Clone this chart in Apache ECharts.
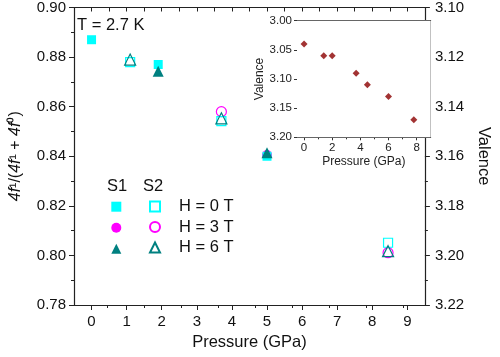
<!DOCTYPE html>
<html><head><meta charset="utf-8">
<script src="https://cdn.jsdelivr.net/npm/echarts@6/dist/echarts.min.js"></script>
<style>html,body{margin:0;padding:0;background:#fff}#c{width:500px;height:357px}</style>
</head><body><div id="c"></div>
<script>
// ---- data ----
const s1_0T_p = [0, 1.9, 5.0];      const s1_0T_v = [0.887, 0.877, 0.840];
const s1_3T_p = [5.0];              const s1_3T_v = [0.8405];
const s1_6T_p = [1.9, 5.0];         const s1_6T_v = [0.8743, 0.8414];
const s2_0T_p = [1.1, 3.7, 8.45];   const s2_0T_v = [0.878, 0.8542, 0.8051];
const s2_3T_p = [3.7, 8.45];        const s2_3T_v = [0.858, 0.8011];
const s2_6T_p = [1.1, 3.7, 8.45];   const s2_6T_v = [0.879, 0.8553, 0.8017];
const inset_p = [0, 1.4, 2.0, 3.7, 4.5, 6.0, 7.8];
const inset_v = [3.04, 3.06, 3.06, 3.09, 3.11, 3.13, 3.17];
const xMajorTicks = [0,1,2,3,4,5,6,7,8,9];
const xMinorTicks = [0.5,1.5,2.5,3.5,4.5,5.5,6.5,7.5,8.5];
const xTopTicks = [0,0.5,1,1.5,2,2.5,3,3.5,4,4.5,5,5.5,6,6.5,7,7.5,8,8.5,9];
const insetXMajor = [0,2,4,6,8];
const insetXMinor = [1,3,5,7];

const zip = (a,b)=>a.map((x,i)=>[x,b[i]]);
const CY='#00FFFF', MG='#FF00FF', TL='#008080';
const FONT='Liberation Sans, Arial, sans-serif';
const AX='#222';

function filled(name, sym, size, color, p, v){
  return {name, type:'scatter', xAxisIndex:0, yAxisIndex:0, symbol:sym, symbolSize:size,
    itemStyle:{color, opacity:1}, data:zip(p,v), z:3};
}
function open(name, sym, size, color, p, v){
  return {name, type:'scatter', xAxisIndex:0, yAxisIndex:0, symbol:sym, symbolSize:size,
    itemStyle:{color:'rgba(255,255,255,0)', borderColor:color, borderWidth:1.2, opacity:1}, data:zip(p,v), z:4};
}
const lblStyle = {fontFamily:FONT, fontSize:15, color:'#111'};
const insetLbl = {fontFamily:FONT, fontSize:11.5, color:'#222'};
const mainRect = {left:70, top:6, width:370.5, height:299};
const insetRect = {left:297, top:20.7, width:133.7, height:116.6};

const chart = echarts.init(document.getElementById('c'), null, {renderer:'canvas'});
chart.setOption({
  animation:false,
  backgroundColor:'#fff',
  textStyle:{fontFamily:FONT},
  grid:[
    {...mainRect},
    {...insetRect, show:true, backgroundColor:'#fff', borderWidth:0, z:5},
    {...mainRect},
    {...insetRect, z:6}
  ],
  xAxis:[
    {gridIndex:0, type:'value', position:'bottom', min:-0.5, max:9.5,
     axisLine:{show:true, onZero:false, lineStyle:{color:AX, width:1.2}},
     axisTick:{show:true, length:5, customValues:xMajorTicks, lineStyle:{color:AX}},
     axisLabel:{customValues:xMajorTicks, margin:9, ...lblStyle},
     splitLine:{show:false},
     name:'Pressure (GPa)', nameLocation:'middle', nameGap:27,
     nameTextStyle:{fontFamily:FONT, fontSize:16.5, color:'#111'}},
    {gridIndex:0, type:'value', position:'top', min:-0.5, max:9.5,
     axisLine:{show:true, onZero:false, lineStyle:{color:AX, width:1.2}},
     axisTick:{show:true, inside:true, length:4, customValues:xTopTicks, lineStyle:{color:AX}},
     axisLabel:{show:false}, splitLine:{show:false}},
    {gridIndex:1, type:'value', position:'bottom', min:-0.5, max:9,
     axisLine:{show:true, onZero:false, lineStyle:{color:'#333'}},
     axisTick:{show:true, length:3, customValues:insetXMajor, lineStyle:{color:'#333'}},
     axisLabel:{customValues:insetXMajor, margin:5, ...insetLbl},
     splitLine:{show:false},
     name:'Pressure (GPa)', nameLocation:'middle', nameGap:18,
     nameTextStyle:{fontFamily:FONT, fontSize:12, color:'#222'}},
    {gridIndex:1, type:'value', position:'top', min:-0.5, max:9,
     axisLine:{show:true, onZero:false, lineStyle:{color:'#333'}},
     axisTick:{show:true, inside:true, length:3, customValues:insetXMajor, lineStyle:{color:'#333'}},
     axisLabel:{show:false}, splitLine:{show:false}},
    {gridIndex:2, type:'value', position:'bottom', min:-0.5, max:9.5,
     axisLine:{show:false}, axisTick:{show:true, length:3, customValues:xMinorTicks, lineStyle:{color:AX}},
     axisLabel:{show:false}, splitLine:{show:false}},
    {gridIndex:3, type:'value', position:'bottom', min:-0.5, max:9,
     axisLine:{show:false}, axisTick:{show:true, length:2, customValues:insetXMinor, lineStyle:{color:'#333'}},
     axisLabel:{show:false}, splitLine:{show:false}}
  ],
  yAxis:[
    {gridIndex:0, type:'value', position:'left', min:0.78, max:0.90, interval:0.02,
     axisLine:{show:true, onZero:false, lineStyle:{color:AX, width:1.2}},
     axisTick:{show:true, length:5, lineStyle:{color:AX}},
     minorTick:{show:true, splitNumber:2, length:3, lineStyle:{color:AX}},
     axisLabel:{margin:8, formatter:v=>v.toFixed(2), ...lblStyle},
     splitLine:{show:false},
     name:'{i|4f}{n|¹/(}{i|4f}{n|¹ + }{i|4f}{n|⁰)}', nameLocation:'middle', nameGap:50,
     nameTextStyle:{fontFamily:FONT, fontSize:16, color:'#111',
       rich:{i:{fontFamily:FONT, fontSize:16, fontStyle:'italic', color:'#111'},
             n:{fontFamily:FONT, fontSize:16, color:'#111'}}}},
    {gridIndex:0, type:'value', position:'right', min:3.10, max:3.22, interval:0.02, inverse:true,
     axisLine:{show:true, onZero:false, lineStyle:{color:AX, width:1.2}},
     axisTick:{show:true, length:5, lineStyle:{color:AX}},
     minorTick:{show:true, splitNumber:2, length:3, lineStyle:{color:AX}},
     axisLabel:{margin:10, formatter:v=>v.toFixed(2), ...lblStyle},
     splitLine:{show:false},
     name:'Valence', nameLocation:'middle', nameGap:42, nameRotate:-90,
     nameTextStyle:{fontFamily:FONT, fontSize:16.5, color:'#111'}},
    {gridIndex:1, type:'value', position:'left', min:3.00, max:3.20, interval:0.05, inverse:true,
     axisLine:{show:true, onZero:false, lineStyle:{color:'#333'}},
     axisTick:{show:true, length:3, lineStyle:{color:'#333'}},
     axisLabel:{margin:5, formatter:v=>v.toFixed(2), ...insetLbl},
     splitLine:{show:false},
     name:'Valence', nameLocation:'middle', nameGap:29,
     nameTextStyle:{fontFamily:FONT, fontSize:12, color:'#222'}},
    {gridIndex:1, type:'value', position:'right', min:3.00, max:3.20, interval:0.05, inverse:true,
     axisLine:{show:true, onZero:false, lineStyle:{color:'#333'}},
     axisTick:{show:true, inside:true, length:3, lineStyle:{color:'#333'}},
     axisLabel:{show:false}, splitLine:{show:false}},
    {gridIndex:2, type:'value', show:false, min:0, max:1},
    {gridIndex:3, type:'value', show:false, min:0, max:1}
  ],
  legend:[
    {orient:'vertical', left:111.3, top:201.7, padding:0, itemWidth:10, itemHeight:10, itemGap:11,
     selectedMode:false, formatter:()=>'', textStyle:{fontSize:16, lineHeight:10},
     data:['S1 H = 0 T','S1 H = 3 T','S1 H = 6 T']},
    {orient:'vertical', left:149, top:198, padding:0, itemWidth:10, itemHeight:10, itemGap:3.5,
     selectedMode:false, formatter:n=>n.replace('S2 ',''),
     textStyle:{fontFamily:FONT, fontSize:16.5, color:'#111', lineHeight:12, padding:[0,0,0,14]},
     data:['S2 H = 0 T','S2 H = 3 T','S2 H = 6 T']}
  ],
  graphic:[
    {type:'text', left:77, top:17, style:{text:'T = 2.7 K', font:'16.5px '+FONT, fill:'#111'}},
    {type:'text', left:107, top:178, style:{text:'S1', font:'16.5px '+FONT, fill:'#111'}},
    {type:'text', left:143, top:178, style:{text:'S2', font:'16.5px '+FONT, fill:'#111'}}
  ],
  series:[
    open('S2 H = 3 T','circle',10,MG,s2_3T_p,s2_3T_v),
    filled('S1 H = 3 T','circle',10,MG,s1_3T_p,s1_3T_v),
    filled('S1 H = 0 T','rect',9,CY,s1_0T_p,s1_0T_v),
    open('S2 H = 0 T','rect',9,CY,s2_0T_p,s2_0T_v),
    filled('S1 H = 6 T','triangle',11,TL,s1_6T_p,s1_6T_v),
    open('S2 H = 6 T','triangle',11,TL,s2_6T_p,s2_6T_v),
    {name:'Inset valence', type:'scatter', xAxisIndex:2, yAxisIndex:2, symbol:'diamond', symbolSize:7,
     itemStyle:{color:'#8B0000'}, data:zip(inset_p, inset_v), z:6}
  ]
});
</script></body></html>
